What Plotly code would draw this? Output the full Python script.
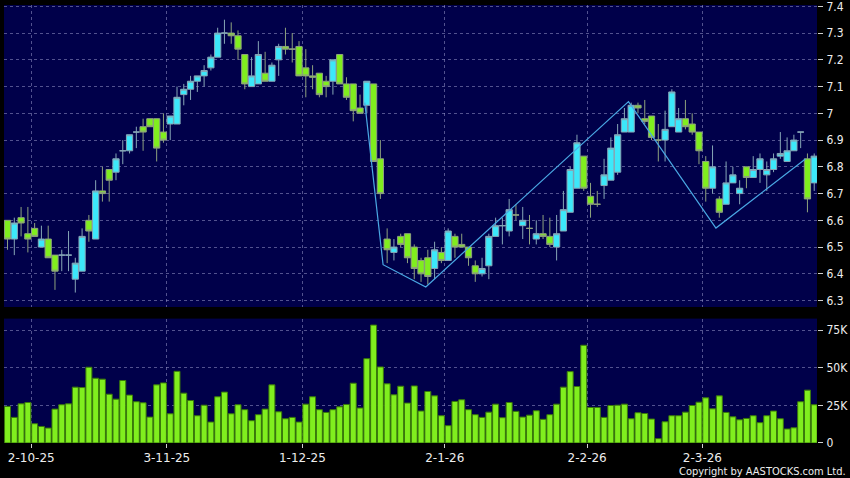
import plotly.graph_objects as go

# ---------------- data ----------------
opens = [6.60, 6.53, 6.61, 6.55, 6.57, 6.50, 6.53, 6.47, 6.47, 6.47,
         6.38, 6.41, 6.60, 6.53, 6.71, 6.79, 6.78, 6.86, 6.86, 6.93,
         6.95, 6.98, 6.98, 6.93, 6.96, 6.96, 7.07, 7.09, 7.12, 7.14,
         7.17, 7.21, 7.30, 7.30, 7.29, 7.22, 7.10, 7.11, 7.15, 7.12,
         7.20, 7.25, 7.24, 7.25, 7.17, 7.14, 7.15, 7.12, 7.12, 7.22,
         7.11, 7.11, 7.02, 7.03, 7.11, 6.83, 6.53, 6.48, 6.54, 6.55,
         6.50, 6.45, 6.46, 6.42, 6.48, 6.45, 6.54, 6.51, 6.50, 6.43,
         6.40, 6.43, 6.54, 6.58, 6.56, 6.62, 6.58, 6.57, 6.53, 6.55,
         6.54, 6.50, 6.56, 6.63, 6.72, 6.84, 6.69, 6.66, 6.73, 6.75,
         6.78, 6.93, 6.93, 7.03, 6.98, 6.99, 6.90, 6.90, 6.95, 6.93,
         6.98, 6.96, 6.93, 6.82, 6.72, 6.68, 6.66, 6.74, 6.70, 6.80,
         6.76, 6.79, 6.77, 6.79, 6.84, 6.82, 6.86, 6.93, 6.83, 6.74]
highs = [6.60, 6.61, 6.65, 6.65, 6.59, 6.58, 6.58, 6.47, 6.49, 6.56,
         6.46, 6.57, 6.62, 6.75, 6.80, 6.79, 6.85, 6.90, 6.92, 6.95,
         6.98, 6.98, 6.98, 7.00, 6.99, 7.10, 7.11, 7.14, 7.14, 7.18,
         7.22, 7.32, 7.35, 7.34, 7.31, 7.22, 7.21, 7.27, 7.23, 7.19,
         7.26, 7.32, 7.30, 7.27, 7.24, 7.18, 7.15, 7.14, 7.20, 7.22,
         7.135, 7.11, 7.07, 7.12, 7.11, 6.90, 6.57, 6.53, 6.55, 6.55,
         6.51, 6.46, 6.49, 6.52, 6.50, 6.57, 6.55, 6.55, 6.50, 6.45,
         6.46, 6.55, 6.61, 6.61, 6.68, 6.66, 6.65, 6.62, 6.60, 6.62,
         6.61, 6.62, 6.71, 6.80, 6.92, 6.84, 6.74, 6.71, 6.83, 6.91,
         6.96, 7.02, 7.04, 7.04, 7.05, 6.99, 6.96, 7.01, 7.09, 7.02,
         7.05, 7.00, 6.93, 6.84, 6.88, 6.69, 6.82, 6.80, 6.75, 6.80,
         6.84, 6.85, 6.82, 6.85, 6.93, 6.91, 6.92, 6.93, 6.85, 6.85]
lows = [6.49, 6.47, 6.54, 6.48, 6.54, 6.50, 6.46, 6.34, 6.41, 6.41,
        6.33, 6.41, 6.52, 6.53, 6.67, 6.67, 6.75, 6.81, 6.85, 6.87,
        6.86, 6.95, 6.82, 6.89, 6.90, 6.96, 7.03, 7.05, 7.08, 7.10,
        7.16, 7.21, 7.26, 7.26, 7.20, 7.09, 7.10, 7.11, 7.12, 7.12,
        7.14, 7.22, 7.19, 7.14, 7.06, 7.09, 7.06, 7.06, 7.07, 7.11,
        7.05, 6.97, 7.00, 7.00, 6.82, 6.68, 6.44, 6.45, 6.50, 6.44,
        6.38, 6.37, 6.36, 6.38, 6.44, 6.45, 6.46, 6.50, 6.43, 6.37,
        6.39, 6.38, 6.54, 6.51, 6.54, 6.60, 6.53, 6.51, 6.51, 6.53,
        6.50, 6.45, 6.56, 6.63, 6.72, 6.71, 6.61, 6.65, 6.68, 6.75,
        6.77, 6.93, 6.93, 7.00, 6.96, 6.90, 6.82, 6.82, 6.95, 6.93,
        6.94, 6.92, 6.81, 6.67, 6.70, 6.61, 6.66, 6.74, 6.66, 6.72,
        6.76, 6.74, 6.71, 6.78, 6.83, 6.82, 6.86, 6.87, 6.63, 6.71]
closes = [6.53, 6.59, 6.59, 6.53, 6.54, 6.53, 6.46, 6.41, 6.47, 6.47,
          6.44, 6.54, 6.56, 6.71, 6.70, 6.75, 6.83, 6.86, 6.92, 6.93,
          6.93, 6.95, 6.87, 6.90, 6.99, 7.06, 7.09, 7.12, 7.14, 7.16,
          7.21, 7.30, 7.30, 7.29, 7.24, 7.11, 7.14, 7.22, 7.12, 7.18,
          7.25, 7.24, 7.24, 7.14, 7.14, 7.135, 7.07, 7.10, 7.20, 7.11,
          7.06, 7.01, 7.00, 7.12, 6.82, 6.70, 6.49, 6.50, 6.51, 6.46,
          6.42, 6.40, 6.39, 6.49, 6.45, 6.56, 6.50, 6.50, 6.46, 6.40,
          6.42, 6.54, 6.58, 6.58, 6.64, 6.62, 6.60, 6.57, 6.55, 6.54,
          6.51, 6.55, 6.64, 6.79, 6.89, 6.72, 6.66, 6.66, 6.77, 6.87,
          6.92, 6.98, 7.03, 7.02, 6.97, 6.91, 6.90, 6.94, 7.08, 6.98,
          6.95, 6.93, 6.86, 6.72, 6.80, 6.63, 6.74, 6.77, 6.72, 6.76,
          6.79, 6.83, 6.79, 6.83, 6.85, 6.86, 6.90, 6.93, 6.68, 6.84]
volumes_k = [24.3, 17.0, 26.0, 26.9, 12.8, 11.0, 9.9, 22.5, 25.4, 26.0,
             37.1, 36.8, 50.3, 43.0, 42.4, 32.4, 29.1, 41.5, 31.8, 27.4,
             26.7, 17.2, 38.6, 39.9, 19.4, 47.6, 33.1, 28.2, 18.1, 25.1,
             13.9, 30.7, 33.8, 19.4, 25.4, 22.1, 14.8, 18.8, 22.5, 38.6,
             20.7, 16.1, 17.0, 13.9, 25.8, 30.7, 22.1, 20.3, 22.1, 24.0,
             25.6, 39.7, 23.2, 56.0, 78.3, 50.5, 39.3, 32.0, 37.7, 26.5,
             37.9, 21.2, 34.2, 31.3, 18.1, 11.5, 27.6, 28.7, 22.1, 18.8,
             17.0, 20.5, 25.8, 16.8, 26.9, 21.0, 17.2, 18.5, 21.4, 15.7,
             18.8, 25.8, 37.1, 47.4, 37.5, 64.9, 23.6, 23.6, 17.0, 24.9,
             25.1, 25.8, 16.1, 20.1, 19.6, 15.9, 2.9, 14.1, 18.1, 18.1,
             20.5, 24.9, 27.1, 30.0, 22.7, 31.3, 20.3, 17.4, 15.4, 16.3,
             18.1, 13.5, 18.1, 21.2, 16.1, 9.3, 10.1, 27.4, 35.1, 25.4]
volumes = [v * 1000 for v in volumes_k]
bar_idx = list(range(len(closes)))

# zigzag line vertices (bar index, price)
zz_idx = [52.7, 55.4, 61.7, 91.6, 104.5, 117.7]
zz_price = [7.04, 6.434, 6.351, 7.044, 6.571, 6.829]

# x tick labels: first trading day of each month (bar index)
date_labels = ["2-10-25", "3-11-25", "1-12-25", "2-1-26", "2-2-26", "2-3-26"]
date_idx = [4, 24, 44, 65, 86, 103]

price_ticks = [6.3, 6.4, 6.5, 6.6, 6.7, 6.8, 6.9, 7.0, 7.1, 7.2, 7.3, 7.4]
vol_ticks = [0, 25000, 50000, 75000]
vol_tick_labels = ["0", "25K", "50K", "75K"]

# ---------------- styling ----------------
BG = "#000000"
PLOT_BG = "#00004a"
GRID = "rgba(150,150,200,0.55)"
CYAN = "#3ce8fa"
GREEN = "#80ee1e"
FONT = "DejaVu Sans"
FONT_C = "DejaVu Sans Condensed, DejaVu Sans"

fig = go.Figure()

fig.add_trace(go.Candlestick(
    x=bar_idx, open=opens, high=highs, low=lows, close=closes,
    increasing=dict(fillcolor=CYAN, line=dict(color="#86a6b6", width=1)),
    decreasing=dict(fillcolor=GREEN, line=dict(color="#8ea27e", width=1)),
    whiskerwidth=0,
    xaxis="x", yaxis="y", showlegend=False, hoverinfo="skip",
))

fig.add_trace(go.Scatter(
    x=zz_idx, y=zz_price, mode="lines",
    line=dict(color="#4aa8e4", width=1.2),
    xaxis="x", yaxis="y", showlegend=False, hoverinfo="skip",
))

fig.add_trace(go.Bar(
    x=bar_idx, y=volumes,
    marker=dict(color=GREEN, line=dict(color="#3a7a0a", width=1)),
    xaxis="x2", yaxis="y2", showlegend=False, hoverinfo="skip",
))

xrange = [-0.52, 119.41]
tickvals_x = [i - 0.5 for i in date_idx]

fig.update_layout(
    width=850, height=478,
    margin=dict(l=4, r=33, t=5, b=35, autoexpand=False),
    paper_bgcolor=BG, plot_bgcolor=PLOT_BG,
    font=dict(family=FONT, size=12, color="#eeeeee"),
    boxgap=0.08, boxgroupgap=0, bargap=0.12,
    showlegend=False,
    xaxis=dict(
        domain=[0, 1], anchor="y", range=xrange, automargin=False,
        rangeslider=dict(visible=False),
        tickvals=tickvals_x, showticklabels=False, ticks="",
        showgrid=True, gridcolor=GRID, griddash="3px,3px", gridwidth=1,
        zeroline=False, showline=False,
    ),
    yaxis=dict(
        domain=[0.3105, 1], anchor="x", side="right", automargin=False,
        range=[6.276, 7.405], tickvals=price_ticks,
        ticks="outside", ticklen=5, tickcolor="#cfcfcf",
        ticklabelstandoff=1, ticklabeloverflow="allow",
        showgrid=True, gridcolor=GRID, griddash="3px,3px", gridwidth=1,
        zeroline=False, showline=False,
        tickfont=dict(family=FONT_C, size=12, color="#eeeeee"),
    ),
    xaxis2=dict(
        domain=[0, 1], anchor="y2", range=xrange, matches="x", automargin=False,
        tickvals=tickvals_x, ticktext=date_labels,
        ticks="outside", ticklen=4, tickcolor="#cfcfcf",
        showgrid=True, gridcolor=GRID, griddash="3px,3px", gridwidth=1,
        zeroline=False, showline=False,
        tickfont=dict(family=FONT, size=12, color="#eeeeee"),
    ),
    yaxis2=dict(
        domain=[0, 0.284], anchor="x2", side="right", automargin=False,
        range=[0, 82600], tickvals=vol_ticks, ticktext=vol_tick_labels,
        ticks="outside", ticklen=5, tickcolor="#cfcfcf",
        ticklabelstandoff=1, ticklabeloverflow="allow",
        showgrid=True, gridcolor=GRID, griddash="3px,3px", gridwidth=1,
        zeroline=False, showline=False,
        tickfont=dict(family=FONT_C, size=12, color="#eeeeee"),
    ),
    annotations=[dict(
        text="Copyright by AASTOCKS.com Ltd.",
        xref="paper", yref="paper", x=1.038, y=-0.064,
        xanchor="right", yanchor="middle", showarrow=False,
        font=dict(family="DejaVu Sans Condensed, Liberation Sans Narrow, DejaVu Sans", size=11, color="#eeeeee"),
    )],
)

fig.write_html(
    "out.html",
    config={"displayModeBar": False},
    post_script="document.body.style.margin='0px';document.body.style.padding='0px';",
)
